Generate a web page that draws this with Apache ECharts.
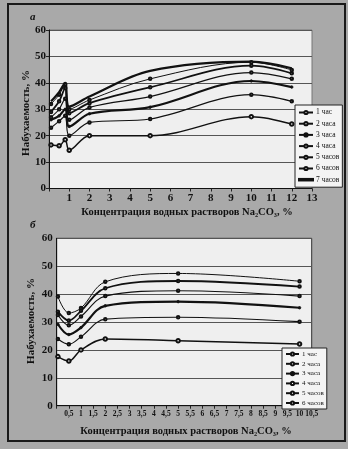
<!DOCTYPE html>
<html><head><meta charset="utf-8">
<script src="https://cdn.jsdelivr.net/npm/echarts@6/dist/echarts.min.js"></script>
<style>html,body{margin:0;padding:0;background:#a9a9a9;}#c{width:348px;height:449px;}</style>
</head><body><div id="c"></div>
<script>
// ---- data ----
var seriesNamesA = ['1 час','2 часа','3 часа','4 часа','5 часов','6 часов','7 часов'];
var seriesNamesB = ['1 час','2 часа','3 часа','4 часа','5 часов','6 часов'];
var xA = [0.1, 0.5, 0.8, 1.0, 2, 5, 10, 12];
var a1 = [16.5, 16.2, 18.5, 14.5, 20.0, 20.0, 27.2, 24.4];
var a2 = [23.0, 25.5, 27.5, 20.0, 25.0, 26.3, 35.5, 33.0];
var a3 = [26.0, 27.5, 30.0, 23.5, 28.3, 30.8, 40.7, 38.4];
var a4 = [27.0, 30.0, 34.0, 26.0, 30.7, 34.8, 43.9, 41.5];
var a5 = [29.0, 33.0, 38.0, 28.5, 32.3, 38.3, 46.5, 43.6];
var a6 = [32.0, 35.5, 39.5, 30.0, 33.5, 41.5, 47.8, 44.9];
var a7 = [33.0, 36.5, 40.0, 31.0, 34.8, 44.5, 48.0, 45.5];
var xB = [0.05, 0.5, 1, 2, 5, 10];
var b1 = [17.6, 16.0, 20.0, 23.9, 23.3, 22.1];
var b2 = [23.9, 22.0, 24.7, 31.0, 31.7, 30.1];
var b3 = [29.2, 25.5, 28.0, 35.8, 37.3, 35.1];
var b4 = [32.5, 28.8, 32.0, 39.3, 41.2, 39.3];
var b5 = [33.7, 30.5, 34.0, 42.1, 44.7, 42.7];
var b6 = [39.1, 33.2, 35.0, 44.4, 47.4, 44.6];
var valuesA = [a1,a2,a3,a4,a5,a6,a7];
var valuesB = [b1,b2,b3,b4,b5,b6];
var xLabel = 'Концентрация водных растворов Na₂CO₃, %';
var yLabel = 'Набухаемость, %';

// ---- styles ----
var widths = [1.5, 1.2, 2.2, 1.2, 1.8, 1.0, 2.2];
var symbols = ['emptyCircle','emptyCircle','circle','emptyCircle','emptyCircle','emptyCircle','none'];
var symSizes = [3.5, 2.5, 2.5, 2.5, 2.5, 2.5, 0];
var FONT = '"Liberation Serif", "DejaVu Serif", serif';

function pairs(xs, ys){ return xs.map(function(x,i){ return [x, ys[i]]; }); }
function mkSeries(names, vals, xs, idx){
  return names.map(function(n,i){
    return {
      name: n, type: 'line', xAxisIndex: idx, yAxisIndex: idx,
      data: pairs(xs, vals[i]), smooth: 0.35,
      symbol: symbols[i], symbolSize: symSizes[i], showSymbol: true,
      lineStyle: {color: '#111', width: widths[i]},
      itemStyle: {color: '#111', borderColor: '#111', borderWidth: 0.8},
      emphasis: {disabled: true}
    };
  });
}
function legendData(names){
  return names.map(function(n, i){
    return symbols[i] === 'none' ? {name: n, icon: 'path://M0 0 L20 0 L20 2.2 L0 2.2 Z'} : {name: n};
  });
}
function fmt(v){ return v === 0 ? '' : String(v).replace('.', ','); }

var axisCommon = {
  axisLine: {show: true, lineStyle: {color: '#111', width: 1}},
  axisTick: {show: true, length: 3, lineStyle: {color: '#222'}},
  splitLine: {show: false}
};
var chart = echarts.init(document.getElementById('c'));
chart.setOption({
  animation: false,
  grid: [
    {left: 49, top: 30, width: 263, height: 158.5, show: true, backgroundColor: '#efefef', borderColor: '#777', borderWidth: 1},
    {left: 56.7, top: 238.3, width: 255, height: 167.4, show: true, backgroundColor: '#efefef', borderColor: '#333', borderWidth: 1}
  ],
  xAxis: [
    Object.assign({type: 'value', gridIndex: 0, min: 0, max: 13, interval: 1,
      axisLabel: {formatter: fmt, fontFamily: FONT, fontWeight: 'bold', fontSize: 11, color: '#111', margin: 4}}, axisCommon),
    Object.assign({type: 'value', gridIndex: 1, min: 0, max: 10.5, interval: 0.5,
      axisLabel: {formatter: fmt, fontFamily: FONT, fontWeight: 'bold', fontSize: 7.5, color: '#111', margin: 4}}, axisCommon)
  ],
  yAxis: [
    {type: 'value', gridIndex: 0, min: 0, max: 60, interval: 10,
      axisLine: {show: true, lineStyle: {color: '#111'}},
      axisTick: {show: true, length: 3, lineStyle: {color: '#222'}},
      splitLine: {show: true, lineStyle: {color: '#555', width: 1}},
      axisLabel: {fontFamily: FONT, fontWeight: 'bold', fontSize: 11, color: '#111', margin: 3}},
    {type: 'value', gridIndex: 1, min: 0, max: 60, interval: 10,
      axisLine: {show: true, lineStyle: {color: '#111'}},
      axisTick: {show: false},
      splitLine: {show: true, lineStyle: {color: '#555', width: 1}},
      axisLabel: {fontFamily: FONT, fontWeight: 'bold', fontSize: 11, color: '#111', margin: 4}}
  ],
  legend: [
    {data: legendData(seriesNamesA), orient: 'vertical', left: 295, top: 105, padding: [3,3,3,3],
      itemWidth: 14, itemHeight: 4, itemGap: 2.2, backgroundColor: '#f4f4f4', borderColor: '#222', borderWidth: 1,
      borderRadius: 0, selectedMode: false,
      textStyle: {fontFamily: FONT, fontSize: 7.5, lineHeight: 9, color: '#111', padding: [0,0,0,-2]}},
    {data: legendData(seriesNamesB), orient: 'vertical', left: 282, top: 348, padding: [2,3,2,3],
      itemWidth: 13, itemHeight: 4, itemGap: 1.8, backgroundColor: '#f4f4f4', borderColor: '#222', borderWidth: 1,
      borderRadius: 0, selectedMode: false,
      textStyle: {fontFamily: FONT, fontSize: 7, lineHeight: 8, color: '#111', padding: [0,0,0,-2]}}
  ],
  graphic: [
    {type: 'rect', shape: {x: 8, y: 4, width: 337, height: 437}, style: {fill: 'none', stroke: '#1a1a1a', lineWidth: 2}, silent: true},
    {type: 'text', left: 30, top: 12, style: {text: 'а', font: 'italic bold 11px ' + FONT, fill: '#111'}},
    {type: 'text', left: 30, top: 220, style: {text: 'б', font: 'italic bold 11px ' + FONT, fill: '#111'}},
    {type: 'text', x: 187, y: 212, style: {text: xLabel, font: 'bold 10.5px ' + FONT, fill: '#111', align: 'center', verticalAlign: 'middle'}},
    {type: 'text', x: 186, y: 431, style: {text: xLabel, font: 'bold 10.5px ' + FONT, fill: '#111', align: 'center', verticalAlign: 'middle'}},
    {type: 'text', x: 26.5, y: 113, rotation: Math.PI/2, style: {text: yLabel, font: 'bold 11px ' + FONT, fill: '#111', align: 'center', verticalAlign: 'middle'}},
    {type: 'text', x: 31, y: 321, rotation: Math.PI/2, style: {text: yLabel, font: 'bold 11px ' + FONT, fill: '#111', align: 'center', verticalAlign: 'middle'}}
  ],
  series: mkSeries(seriesNamesA, valuesA, xA, 0).concat(mkSeries(seriesNamesB, valuesB, xB, 1))
});
</script></body></html>
